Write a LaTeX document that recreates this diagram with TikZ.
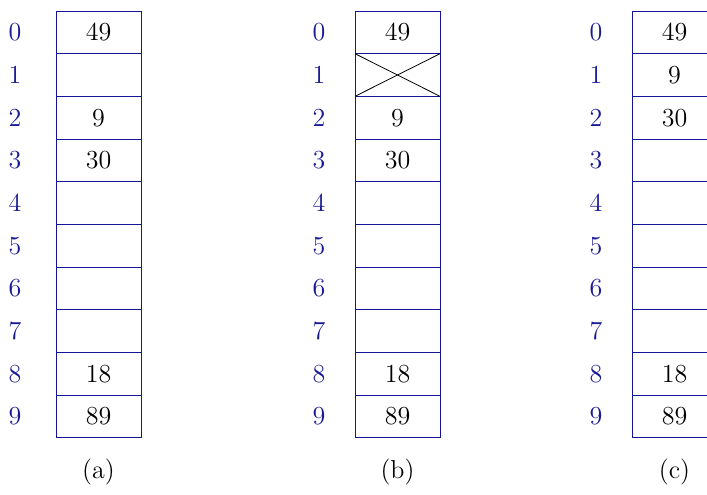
\documentclass[tikz,border=0pt]{standalone}
\usepackage{fontspec}
\definecolor{idx}{RGB}{25,25,150}
\definecolor{boxc}{RGB}{20,20,150}
\begin{document}
\begin{tikzpicture}[x=0.5pt,y=-0.5pt,
  font=\fontsize{13}{15}\selectfont,
  cell/.style={draw=boxc, minimum width=42.5pt, minimum height=21.33pt, inner sep=0pt, outer sep=0pt},
  idxlab/.style={text=idx, inner sep=0pt},
  caplab/.style={inner sep=0pt}]
\useasboundingbox (0,0) rectangle (707,494);
% (a)
\foreach \i/\v in {0/49,1/,2/9,3/30,4/,5/,6/,7/,8/18,9/89}{
  \node[cell] (a\i) at (98.5,{32.33+42.67*\i}) {\v};
  \node[idxlab] (ai\i) at (15,{32.33+42.67*\i}) {\i};
}
\node[caplab] (capa) at (98.5,472) {(a)};
% (b)
\foreach \i/\v in {0/49,1/,2/9,3/30,4/,5/,6/,7/,8/18,9/89}{
  \node[cell] (b\i) at (397.5,{32.33+42.67*\i}) {\v};
  \node[idxlab] (bi\i) at (319,{32.33+42.67*\i}) {\i};
}
\draw (b1.north west) -- (b1.south east);
\draw (b1.south west) -- (b1.north east);
\node[caplab] (capb) at (397.5,472) {(b)};
% (c)
\foreach \i/\v in {0/49,1/9,2/30,3/,4/,5/,6/,7/,8/18,9/89}{
  \node[cell] (c\i) at (674.5,{32.33+42.67*\i}) {\v};
  \node[idxlab] (ci\i) at (596,{32.33+42.67*\i}) {\i};
}
\node[caplab] (capc) at (674.5,472) {(c)};
\end{tikzpicture}
\end{document}
